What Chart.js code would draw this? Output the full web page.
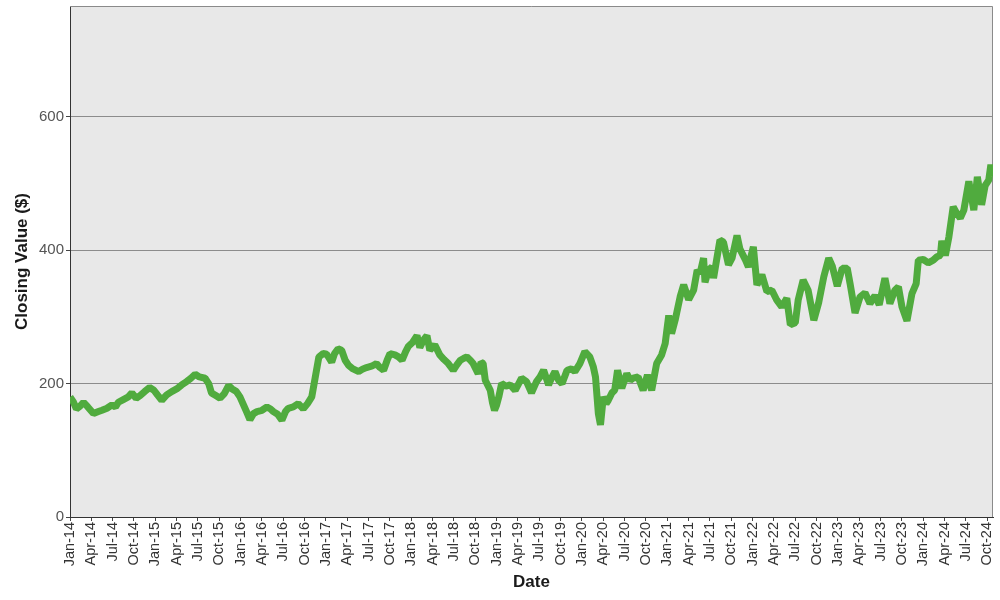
<!DOCTYPE html>
<html>
<head>
<meta charset="utf-8">
<script src="https://cdn.jsdelivr.net/npm/chart.js@4/dist/chart.umd.min.js"></script>
<style>
  html, body { margin: 0; padding: 0; background: #fff; }
  #chart { display: block; }
</style>
</head>
<body>
<canvas id="chart" width="1000" height="600"></canvas>
<script>
// months since Jan 2014 (fractional) and closing values
const monthPos = [
  0.0, 0.5, 0.9, 1.4, 1.9, 2.5, 3.3, 4.0, 4.5, 5.2, 5.9, 6.4, 6.8, 7.5, 8.2, 8.7, 9.3, 9.85, 10.5, 11.2,
  11.8, 12.3, 12.9, 13.6, 14.3, 15.0, 15.7, 16.4, 17.0, 17.6, 18.2, 19.0, 19.5, 19.9, 20.5, 21.1, 21.7, 22.3, 22.8, 23.4,
  23.9, 24.4, 24.9, 25.3, 25.8, 26.3, 27.0, 27.7, 28.2, 28.6, 29.2, 29.8, 30.3, 30.7, 31.4, 32.1, 32.8, 33.4, 34.0, 34.5,
  35.0, 35.6, 36.1, 36.8, 37.2, 37.7, 38.2, 38.7, 39.2, 39.8, 40.6, 41.2, 41.7, 42.4, 43.1, 43.6, 44.1, 44.6, 45.0, 45.7,
  46.2, 46.7, 47.2, 47.6, 48.2, 48.8, 49.2, 49.7, 50.2, 50.6, 51.3, 52.0, 52.6, 53.2, 53.9, 54.4, 54.9, 55.4, 55.8, 56.3,
  56.7, 57.4, 57.8, 58.1, 58.4, 59.1, 59.4, 59.7, 60.0, 60.3, 60.7, 61.3, 61.9, 62.6, 63.1, 63.5, 64.2, 64.9, 65.6, 66.1,
  66.6, 67.3, 67.8, 68.2, 68.7, 69.2, 69.9, 70.5, 71.0, 71.7, 72.4, 73.1, 73.6, 73.9, 74.3, 74.6, 75.0, 75.4, 75.7, 76.2,
  76.6, 77.0, 77.6, 78.3, 78.8, 79.2, 79.9, 80.6, 81.2, 81.8, 82.5, 83.2, 83.7, 84.2, 84.6, 85.1, 85.8, 86.3, 87.0, 87.7,
  88.2, 88.6, 89.1, 89.3, 89.8, 90.3, 90.5, 91.4, 91.9, 92.6, 93.1, 93.8, 94.2, 95.0, 95.4, 96.1, 96.6, 97.3, 98.0, 98.7,
  99.4, 100.1, 100.8, 101.3, 102.0, 102.4, 103.1, 103.8, 104.6, 105.3, 106.0, 106.7, 107.2, 107.9, 108.6, 109.3, 109.7, 110.4, 111.1, 111.8,
  112.5, 113.2, 113.8, 114.6, 115.3, 116.0, 116.5, 117.0, 117.7, 118.4, 119.0, 119.3, 120.0, 120.7, 121.4, 121.9, 122.4, 122.6, 123.1, 123.6,
  124.2, 124.7, 125.2, 125.7, 126.4, 127.1, 127.6, 128.2, 128.7, 129.2, 129.5, 129.7
]
const closeValues = [
  180, 172, 162, 166, 172, 165, 155, 158, 160, 163, 168, 165, 172, 176, 180, 186, 178, 182, 188, 194,
  190, 183, 175, 183, 188, 192, 198, 203, 208, 214, 210, 208, 200, 186, 182, 178, 185, 197, 192, 188,
  180, 168, 156, 146, 155, 158, 160, 165, 162, 158, 154, 145, 158, 163, 165, 170, 162, 170, 180, 210,
  240, 245, 244, 232, 245, 252, 250, 235, 227, 222, 218, 222, 224, 226, 230, 224, 220, 235, 245, 243,
  240, 235, 248, 256, 262, 272, 254, 265, 272, 250, 258, 243, 236, 230, 220, 228, 235, 238, 240, 235,
  230, 215, 232, 230, 205, 190, 172, 160, 168, 180, 200, 196, 198, 190, 200, 208, 203, 186, 203, 210,
  220, 198, 210, 218, 205, 200, 220, 222, 218, 230, 248, 240, 225, 210, 155, 138, 180, 170, 175, 186,
  190, 220, 193, 215, 205, 208, 210, 190, 213, 190, 230, 243, 260, 302, 275, 295, 330, 348, 326, 340,
  370, 365, 388, 352, 370, 375, 358, 415, 412, 378, 388, 422, 402, 385, 375, 405, 348, 363, 338, 340,
  325, 315, 328, 288, 291, 325, 355, 340, 295, 322, 360, 388, 376, 346, 373, 373, 350, 306, 330, 336,
  320, 332, 318, 358, 320, 340, 345, 315, 294, 335, 350, 385, 386, 381, 385, 390, 392, 414, 392, 420,
  465, 455, 448, 460, 503, 460, 510, 468, 497, 505, 528, 510
]
const quarterLabels = [
  'Jan-14', 'Apr-14', 'Jul-14', 'Oct-14', 'Jan-15', 'Apr-15', 'Jul-15', 'Oct-15',
  'Jan-16', 'Apr-16', 'Jul-16', 'Oct-16', 'Jan-17', 'Apr-17', 'Jul-17', 'Oct-17',
  'Jan-18', 'Apr-18', 'Jul-18', 'Oct-18', 'Jan-19', 'Apr-19', 'Jul-19', 'Oct-19',
  'Jan-20', 'Apr-20', 'Jul-20', 'Oct-20', 'Jan-21', 'Apr-21', 'Jul-21', 'Oct-21',
  'Jan-22', 'Apr-22', 'Jul-22', 'Oct-22', 'Jan-23', 'Apr-23', 'Jul-23', 'Oct-23',
  'Jan-24', 'Apr-24', 'Jul-24', 'Oct-24'
]
const yTicks = [0, 200, 400, 600]

const FONT = "'Liberation Sans', Arial, sans-serif"

// grey plot area plus a thin frame on top and right
const plotFrame = {
  id: 'plotFrame',
  beforeDraw(chart) {
    const { ctx, chartArea: a } = chart
    ctx.save()
    ctx.fillStyle = '#e8e8e8'
    ctx.fillRect(a.left, a.top, a.right - a.left, a.bottom - a.top)
    ctx.restore()
  },
  beforeDatasetsDraw(chart) {
    const { ctx, chartArea: a } = chart
    ctx.save()
    ctx.strokeStyle = '#8a8a8a'
    ctx.lineWidth = 1
    ctx.beginPath()
    ctx.moveTo(a.left, a.top + 0.5)
    ctx.lineTo(a.right - 0.5, a.top + 0.5)
    ctx.lineTo(a.right - 0.5, a.bottom)
    ctx.stroke()
    ctx.restore()
  }
}

new Chart(document.getElementById('chart'), {
  type: 'line',
  data: {
    datasets: [{
      label: 'Closing Value',
      data: monthPos.map((m, i) => ({ x: m, y: closeValues[i] })),
      borderColor: '#50ab3e',
      borderWidth: 7,
      borderJoinStyle: 'bevel',
      pointRadius: 0,
      tension: 0,
      fill: false
    }]
  },
  options: {
    responsive: false,
    animation: false,
    layout: { padding: { top: 6, right: 7, left: 0, bottom: 0 } },
    plugins: { legend: { display: false }, tooltip: { enabled: false } },
    scales: {
      x: {
        type: 'linear',
        min: 0,
        max: 129.8,
        afterBuildTicks: scale => { scale.ticks = quarterLabels.map((_, i) => ({ value: i * 3 })) },
        afterFit: scale => {
          scale.height = 83
          scale.paddingLeft = 0
          scale.paddingRight = 0
        },
        grid: { drawOnChartArea: false, drawTicks: true, tickLength: 4, tickColor: '#444' },
        border: { color: '#333', width: 1 },
        ticks: {
          autoSkip: false,
          maxRotation: 90,
          minRotation: 90,
          padding: 1,
          color: '#333',
          font: { family: FONT, size: 14.5 },
          callback: v => quarterLabels[Math.round(v / 3)]
        },
        title: {
          display: true,
          text: 'Date',
          color: '#1a1a1a',
          font: { family: FONT, size: 17, weight: 'bold' },
          padding: { top: 0, bottom: 7 }
        }
      },
      y: {
        min: 0,
        max: 766,
        afterBuildTicks: scale => { scale.ticks = yTicks.map(v => ({ value: v })) },
        afterFit: scale => {
          scale.width = 70
          scale.paddingTop = 0
          scale.paddingBottom = 0
        },
        grid: { color: '#8c8c8c', lineWidth: 1, tickLength: 4, tickColor: '#444' },
        border: { color: '#333', width: 1 },
        ticks: {
          padding: 2,
          color: '#555',
          font: { family: FONT, size: 15 }
        },
        title: {
          display: true,
          text: 'Closing Value ($)',
          color: '#1a1a1a',
          font: { family: FONT, size: 17, weight: 'bold' },
          padding: { top: 12, bottom: 0 }
        }
      }
    }
  },
  plugins: [plotFrame]
})
</script>
</body>
</html>
